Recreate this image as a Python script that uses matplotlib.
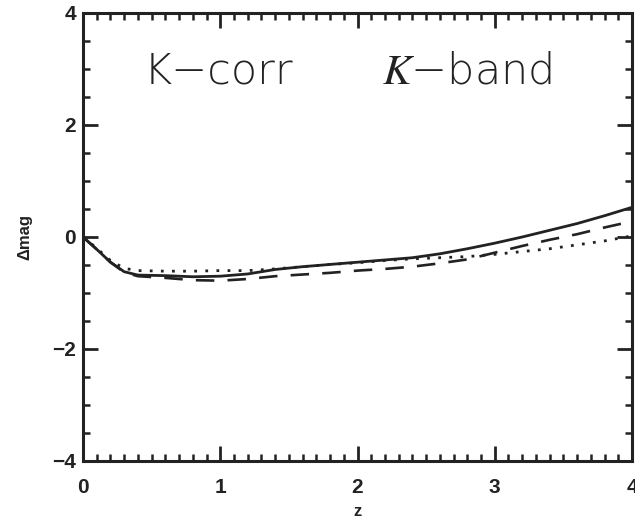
import matplotlib
matplotlib.use("Agg")
import matplotlib.pyplot as plt
from matplotlib.ticker import MultipleLocator

plt.rcParams['mathtext.fontset'] = 'stix'

# redshift grid and K-corrections for the three models
z = [0.0, 0.1, 0.2, 0.3, 0.4, 0.6, 0.8, 1.0, 1.2, 1.4, 1.6, 1.8,
     2.0, 2.2, 2.4, 2.6, 2.8, 3.0, 3.2, 3.4, 3.6, 3.8, 4.0]
kcorr_solid = [0.0, -0.22, -0.45, -0.62, -0.68, -0.69, -0.71, -0.70, -0.66, -0.58,
               -0.53, -0.49, -0.45, -0.41, -0.37, -0.30, -0.21, -0.11, 0.00, 0.12,
               0.24, 0.38, 0.53]
kcorr_dashed = [0.0, -0.22, -0.45, -0.63, -0.70, -0.73, -0.77, -0.78, -0.75, -0.70,
                -0.67, -0.64, -0.60, -0.57, -0.53, -0.47, -0.40, -0.28, -0.16, -0.05,
                0.05, 0.17, 0.28]
kcorr_dotted = [0.0, -0.20, -0.42, -0.56, -0.60, -0.61, -0.61, -0.60, -0.60, -0.57,
                -0.53, -0.49, -0.46, -0.42, -0.39, -0.37, -0.35, -0.31, -0.26, -0.21,
                -0.14, -0.07, 0.02]

fig = plt.figure(figsize=(6.35, 5.19), dpi=100)
ax = fig.add_axes([83/635, 58/519, 549/635, 448/519])

ax.plot(z, kcorr_solid, color='#222222', lw=2.0, ls='-')
ax.plot(z, kcorr_dashed, color='#222222', lw=1.9, ls=(0, (7, 5)))
ax.plot(z, kcorr_dotted, color='#222222', lw=2.0, ls=(0, (1, 3)))

ax.set_xlim(0, 4)
ax.set_ylim(-4, 4)
ax.xaxis.set_major_locator(MultipleLocator(1))
ax.xaxis.set_minor_locator(MultipleLocator(0.1))
ax.yaxis.set_major_locator(MultipleLocator(2))
ax.yaxis.set_minor_locator(MultipleLocator(0.5))
ax.tick_params(which='both', direction='in', top=True, right=True, color='#222222')
ax.tick_params(which='major', length=11, width=2)
ax.tick_params(which='minor', length=5, width=1.8)
ax.tick_params(axis='x', pad=12)
ax.tick_params(axis='y', pad=5)
for lab in ax.get_xticklabels() + ax.get_yticklabels():
    lab.set_fontfamily('Liberation Sans')
    lab.set_fontweight('bold')
    lab.set_fontsize(15)
    lab.set_color('#222222')
for sp in ax.spines.values():
    sp.set_linewidth(2.2)
    sp.set_color('#222222')

ax.set_xlabel('z', fontfamily='Liberation Sans', fontweight='bold', fontsize=12,
              labelpad=5, color='#222222')
ax.set_ylabel('Δmag', fontfamily='Liberation Sans', fontweight='bold', fontsize=12,
              labelpad=14, color='#222222')

ax.text(0.247, 0.87, 'K−corr', transform=ax.transAxes, fontsize=31,
        fontfamily='DejaVu Sans', fontweight='light', ha='center', va='center',
        color='#222222')
ax.text(0.70, 0.87, '$K$−band', transform=ax.transAxes, fontsize=31,
        fontfamily='DejaVu Sans', fontweight='light', ha='center', va='center',
        color='#222222')

fig.savefig('out.png', dpi=100)
